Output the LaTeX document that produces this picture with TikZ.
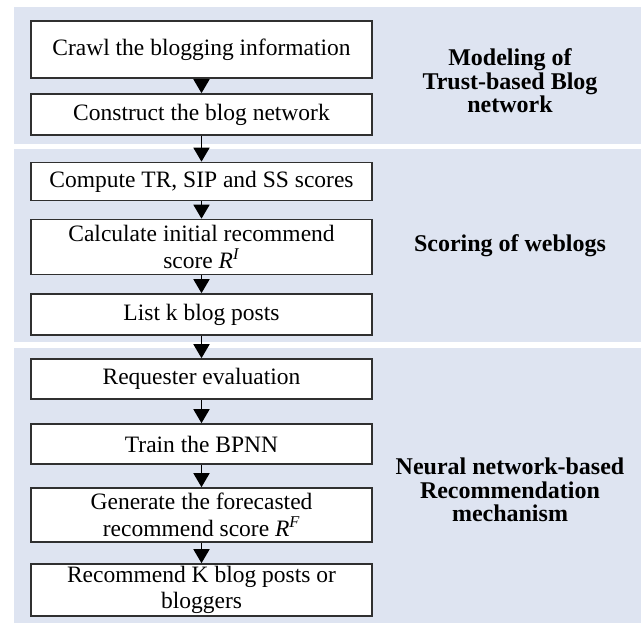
\documentclass[tikz,border=0pt]{standalone}
\usepackage{fontspec}
\setmainfont{Liberation Serif}
\usetikzlibrary{arrows.meta}

\definecolor{panelfill}{HTML}{DEE4F1}
\definecolor{boxline}{HTML}{303030}

\tikzset{
  panel/.style={fill=panelfill, draw=none},
  stepbox/.style={draw=boxline, line width=1.6pt, fill=white, minimum width=341pt,
    inner sep=0pt, align=center, font=\fontsize{23.5}{26.5}\selectfont},
  phase/.style={align=center, font=\fontsize{24}{23.5}\selectfont\bfseries},
  flow/.style={line width=1.6pt, -{Triangle[length=14pt,width=16pt]}}
}

\begin{document}
\begin{tikzpicture}[x=1pt,y=-1pt]
  \useasboundingbox (0,0) rectangle (643,627);

  % phase backgrounds
  \fill[panel] (14,7) rectangle (641,144);
  \fill[panel] (14,149) rectangle (641,342);
  \fill[panel] (14,348) rectangle (641,623);

  % process steps
  \node[stepbox, minimum height=57pt] (b1) at (201.5,49.5) {Crawl the blogging information};
  \node[stepbox, minimum height=41pt] (b2) at (201.5,114.5) {Construct the blog network};
  \node[stepbox, minimum height=38pt] (b3) at (201.5,181.5) {Compute TR, SIP and SS scores};
  \node[stepbox, minimum height=55pt] (b4) at (201.5,247) {Calculate initial recommend\\score \textit{R}\textsuperscript{\textit{I}}};
  \node[stepbox, minimum height=41pt] (b5) at (201.5,314.5) {List k blog posts};
  \node[stepbox, minimum height=40pt] (b6) at (201.5,379) {Requester evaluation};
  \node[stepbox, minimum height=40pt] (b7) at (201.5,444) {Train the BPNN};
  \node[stepbox, minimum height=54pt] (b8) at (201.5,515) {Generate the forecasted\\recommend score \textit{R}\textsuperscript{\textit{F}}};
  \node[stepbox, minimum height=52pt] (b9) at (201.5,590) {Recommend K blog posts or\\bloggers};

  % phase titles
  \node[phase] (t1) at (510,81) {Modeling of\\Trust-based Blog\\network};
  \node[phase] (t2) at (510,246) {Scoring of weblogs};
  \node[phase] (t3) at (510,490) {Neural network-based\\Recommendation\\mechanism};

  % connectors
  \foreach \a/\b in {b1/b2,b2/b3,b3/b4,b4/b5,b5/b6,b6/b7,b7/b8,b8/b9}
    \draw[flow] (\a) -- (\b);
\end{tikzpicture}
\end{document}
